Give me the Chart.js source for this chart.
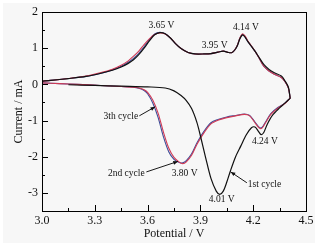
<!DOCTYPE html>
<html>
<head>
<meta charset="utf-8">
<script src="https://cdn.jsdelivr.net/npm/chart.js@4/dist/chart.umd.min.js"></script>
<style>
  html, body { margin: 0; padding: 0; background: #fff; }
  canvas { display: block; }
</style>
</head>
<body>
<canvas id="chart" width="330" height="248"></canvas>
<script>
// --- data ---
// 1st cycle: starts at 3.15 V, lower branch to 4.41 V, then back on the upper branch
const c1LowX = [3.15, 3.3, 3.45, 3.6, 3.7, 3.75, 3.79, 3.82, 3.85, 3.88, 3.9, 3.93, 3.96, 3.99, 4.01, 4.03, 4.05, 4.07, 4.1, 4.13, 4.16, 4.19, 4.21, 4.23, 4.245, 4.26, 4.28, 4.31, 4.35, 4.38, 4.41];
const c1LowY = [-0.01, -0.03, -0.05, -0.07, -0.1, -0.18, -0.31, -0.45, -0.67, -1.05, -1.42, -2.03, -2.6, -2.95, -3.04, -2.95, -2.7, -2.4, -2.0, -1.7, -1.4, -1.2, -1.18, -1.3, -1.39, -1.33, -1.1, -0.85, -0.65, -0.52, -0.38];

// upper branch potentials (shared by the three cycles)
const upX = [4.41, 4.4, 4.38, 4.36, 4.32, 4.29, 4.26, 4.23, 4.21, 4.19, 4.17, 4.155, 4.14, 4.125, 4.11, 4.095, 4.08, 4.06, 4.03, 4.0, 3.96, 3.92, 3.87, 3.83, 3.79, 3.76, 3.73, 3.7, 3.67, 3.64, 3.61, 3.58, 3.55, 3.52, 3.49, 3.45, 3.4, 3.33, 3.25, 3.15, 3.05, 3.0];
const c1UpY = [-0.38, -0.08, 0.1, 0.23, 0.32, 0.41, 0.55, 0.77, 0.92, 1.05, 1.18, 1.3, 1.37, 1.27, 1.07, 0.95, 0.88, 0.88, 0.92, 0.89, 0.85, 0.84, 0.84, 0.88, 0.99, 1.12, 1.28, 1.4, 1.43, 1.37, 1.2, 1.0, 0.82, 0.68, 0.58, 0.48, 0.39, 0.3, 0.22, 0.16, 0.11, 0.09];
const c2UpY = [-0.38, -0.1, 0.08, 0.19, 0.28, 0.37, 0.5, 0.76, 0.92, 1.06, 1.2, 1.33, 1.4, 1.29, 1.08, 0.95, 0.88, 0.88, 0.92, 0.89, 0.85, 0.84, 0.84, 0.88, 0.99, 1.12, 1.28, 1.39, 1.42, 1.38, 1.26, 1.1, 0.92, 0.78, 0.65, 0.53, 0.42, 0.32, 0.23, 0.16, 0.11, 0.09];
const c3UpY = [-0.38, -0.1, 0.08, 0.19, 0.28, 0.37, 0.5, 0.76, 0.92, 1.05, 1.18, 1.3, 1.38, 1.28, 1.08, 0.95, 0.88, 0.88, 0.92, 0.89, 0.85, 0.84, 0.84, 0.88, 0.99, 1.12, 1.28, 1.4, 1.44, 1.39, 1.24, 1.04, 0.86, 0.72, 0.61, 0.5, 0.4, 0.3, 0.22, 0.16, 0.11, 0.09];

// lower branch of 2nd and 3rd cycles, 3.0 V -> 4.41 V
const lowX = [3.0, 3.1, 3.2, 3.33, 3.45, 3.52, 3.55, 3.58, 3.6, 3.63, 3.66, 3.69, 3.72, 3.75, 3.78, 3.8, 3.82, 3.85, 3.88, 3.92, 3.96, 4.0, 4.05, 4.1, 4.15, 4.18, 4.21, 4.235, 4.25, 4.27, 4.3, 4.34, 4.38, 4.41];
const c2LowY = [0.04, 0.02, 0.0, -0.03, -0.06, -0.08, -0.1, -0.15, -0.22, -0.44, -0.8, -1.32, -1.76, -2.02, -2.15, -2.19, -2.14, -1.96, -1.66, -1.34, -1.09, -0.99, -0.92, -0.87, -0.83, -0.87, -1.06, -1.21, -1.21, -1.06, -0.83, -0.66, -0.53, -0.38];
const c3LowY = [0.04, 0.02, 0.0, -0.03, -0.06, -0.08, -0.11, -0.17, -0.26, -0.52, -0.92, -1.45, -1.86, -2.07, -2.16, -2.17, -2.11, -1.92, -1.62, -1.3, -1.06, -0.97, -0.9, -0.86, -0.82, -0.86, -1.04, -1.19, -1.19, -1.04, -0.81, -0.64, -0.52, -0.38];

const xTickVals = [3.0, 3.3, 3.6, 3.9, 4.2, 4.5];
const yTickVals = [-3, -2, -1, 0, 1, 2];

// peak labels and cycle labels (data units)
const peakLabels = [
  { text: '3.65 V', x: 3.679, y: 1.63 },
  { text: '3.95 V', x: 3.981, y: 1.07 },
  { text: '4.14 V', x: 4.158, y: 1.57 },
  { text: '4.24 V', x: 4.266, y: -1.59 },
  { text: '3.80 V', x: 3.81, y: -2.45 },
  { text: '4.01 V', x: 4.021, y: -3.19 }
];
const cycleLabels = [
  { text: '1st cycle', x: 4.264, y: -2.78, fromX: 4.164, fromY: -2.72, toX: 4.072, toY: -2.42 },
  { text: '2nd cycle', x: 3.479, y: -2.45, fromX: 3.593, fromY: -2.42, toX: 3.772, toY: -2.13 },
  { text: '3th cycle', x: 3.448, y: -0.895, fromX: 3.553, fromY: -0.87, toX: 3.643, toY: -0.62 }
];

const pts = (xs, ys) => xs.map((x, i) => ({ x: x, y: ys[i] }));

const SERIF = '"Liberation Serif", "DejaVu Serif", serif';

const framePlugin = {
  id: 'frame',
  beforeDraw(chart) {
    const ctx = chart.ctx;
    ctx.save();
    ctx.fillStyle = '#f7f7f7';
    ctx.fillRect(3, 3, 312, 240);
    ctx.restore();
  },
  afterDraw(chart) {
    const ctx = chart.ctx;
    const a = chart.chartArea;
    const xs = chart.scales.x, ys = chart.scales.y;
    ctx.save();
    ctx.strokeStyle = '#000';
    ctx.lineWidth = 1;
    ctx.strokeRect(Math.round(a.left) + 0.5, Math.round(a.top) + 0.5,
      Math.round(a.right - a.left), Math.round(a.bottom - a.top));

    // inward ticks, major + minor
    ctx.beginPath();
    xTickVals.forEach((v, i) => {
      const px = Math.round(xs.getPixelForValue(v)) + 0.5;
      ctx.moveTo(px, a.bottom); ctx.lineTo(px, a.bottom - 6);
      if (i < xTickVals.length - 1) {
        const m = Math.round(xs.getPixelForValue((v + xTickVals[i + 1]) / 2)) + 0.5;
        ctx.moveTo(m, a.bottom); ctx.lineTo(m, a.bottom - 3);
      }
    });
    yTickVals.forEach((v, i) => {
      const py = Math.round(ys.getPixelForValue(v)) + 0.5;
      ctx.moveTo(a.left, py); ctx.lineTo(a.left + 6, py);
      if (i < yTickVals.length - 1) {
        const m = Math.round(ys.getPixelForValue((v + yTickVals[i + 1]) / 2)) + 0.5;
        ctx.moveTo(a.left, m); ctx.lineTo(a.left + 3, m);
      }
    });
    ctx.stroke();

    // text annotations
    ctx.fillStyle = '#111';
    ctx.font = '9.5px ' + SERIF;
    ctx.textAlign = 'center';
    ctx.textBaseline = 'middle';
    peakLabels.forEach(l => {
      ctx.fillText(l.text, xs.getPixelForValue(l.x), ys.getPixelForValue(l.y));
    });
    cycleLabels.forEach(l => {
      ctx.fillText(l.text, xs.getPixelForValue(l.x), ys.getPixelForValue(l.y));
      const x1 = xs.getPixelForValue(l.fromX), y1 = ys.getPixelForValue(l.fromY);
      const x2 = xs.getPixelForValue(l.toX), y2 = ys.getPixelForValue(l.toY);
      ctx.beginPath();
      ctx.moveTo(x1, y1); ctx.lineTo(x2, y2);
      ctx.lineWidth = 0.9;
      ctx.stroke();
      const ang = Math.atan2(y2 - y1, x2 - x1);
      ctx.beginPath();
      ctx.moveTo(x2, y2);
      ctx.lineTo(x2 - 5 * Math.cos(ang - 0.4), y2 - 5 * Math.sin(ang - 0.4));
      ctx.lineTo(x2 - 5 * Math.cos(ang + 0.4), y2 - 5 * Math.sin(ang + 0.4));
      ctx.closePath();
      ctx.fill();
    });
    ctx.restore();
  }
};

const line = (data, color, w) => ({
  data: data,
  showLine: true,
  borderColor: color,
  borderWidth: w,
  pointRadius: 0,
  tension: 0.3,
  fill: false
});

new Chart(document.getElementById('chart'), {
  type: 'scatter',
  data: {
    datasets: [
      line(pts(c1LowX, c1LowY).concat(pts(upX, c1UpY)), '#111111', 1.2),
      line(pts(lowX, c2LowY).concat(pts(upX, c2UpY)), '#d03a55', 1.1),
      line(pts(lowX, c3LowY).concat(pts(upX, c3UpY)), '#3d4c98', 1.1)
    ]
  },
  plugins: [framePlugin],
  options: {
    responsive: false,
    animation: false,
    devicePixelRatio: 1,
    layout: { padding: { top: 12, right: 24, left: 0, bottom: 0 } },
    plugins: { legend: { display: false }, tooltip: { enabled: false } },
    scales: {
      x: {
        type: 'linear', min: 3.0, max: 4.5,
        afterBuildTicks: s => { s.ticks = xTickVals.map(v => ({ value: v })); },
        afterFit: s => { s.height = 37; },
        grid: { display: false, drawTicks: false },
        border: { display: false },
        ticks: { color: '#111', padding: 3, font: { family: SERIF, size: 12 }, callback: v => v.toFixed(1) },
        title: { display: true, text: 'Potential / V', color: '#111', padding: { top: 0, bottom: 7 }, font: { family: SERIF, size: 12 } }
      },
      y: {
        type: 'linear', min: -3.5, max: 2,
        afterBuildTicks: s => { s.ticks = yTickVals.map(v => ({ value: v })); },
        afterFit: s => { s.width = 42; },
        grid: { display: false, drawTicks: false },
        border: { display: false },
        ticks: { color: '#111', padding: 4, font: { family: SERIF, size: 12 } },
        title: { display: true, text: 'Current / mA', color: '#111', padding: { top: 12, bottom: 0 }, font: { family: SERIF, size: 12 } }
      }
    }
  }
});
</script>
</body>
</html>
